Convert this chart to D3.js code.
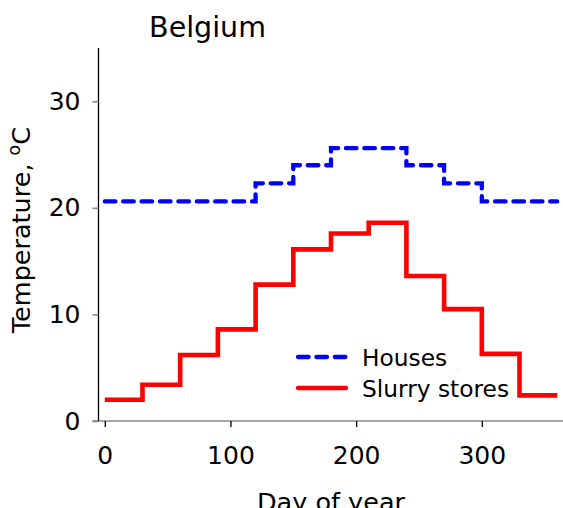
<!DOCTYPE html>
<html>
<head>
<meta charset="utf-8">
<script src="https://cdn.jsdelivr.net/npm/d3@7"></script>
<style>
  html, body { margin: 0; padding: 0; background: #fff; overflow: hidden; }
  svg { display: block; font-family: "DejaVu Sans", Verdana, sans-serif; }
</style>
</head>
<body>
<svg id="chart" width="563" height="508"></svg>
<script>
// Monthly step profile (30-day blocks) of temperatures in Belgium
const stepStarts = [0, 30, 60, 90, 120, 150, 180, 210, 240, 270, 300, 330];
const yearEnd = 360;
const housesTemp = [20.6, 20.6, 20.6, 20.6, 22.3, 24.0, 25.6, 25.6, 24.0, 22.3, 20.6, 20.6];
const slurryTemp = [2.0, 3.4, 6.2, 8.6, 12.8, 16.1, 17.6, 18.6, 13.6, 10.5, 6.3, 2.4];
const seriesNames = ["Houses", "Slurry stores"];
const xTicks = [0, 100, 200, 300];
const yTicks = [0, 10, 20, 30];

const svg = d3.select("#chart");
const plotLeft = 98.5, plotRight = 563.5, plotTop = 48, plotBottom = 421;

const x = d3.scaleLinear().domain([-5, 365]).range([plotLeft, plotRight]);
const y = d3.scaleLinear().domain([0, 35]).range([plotBottom, plotTop]);

// Build step points: each value holds until the next block begins
function stepPoints(values) {
  const pts = values.map((v, i) => [stepStarts[i], v]);
  pts.push([yearEnd, values[values.length - 1]]);
  return pts;
}

const line = d3.line()
  .x(d => x(d[0]))
  .y(d => y(d[1]))
  .curve(d3.curveStepAfter);

// Axes
const xAxis = svg.append("g")
  .attr("transform", `translate(0,${plotBottom})`)
  .call(d3.axisBottom(x).tickValues(xTicks).tickSize(6).tickPadding(19).tickFormat(d3.format("d")));
xAxis.select(".domain").attr("stroke", "#888").attr("stroke-width", 1.6)
  .attr("d", `M${plotLeft - 6},0H${plotRight}`);
xAxis.selectAll(".tick line").attr("stroke", "#000").attr("stroke-width", 1.3);
xAxis.selectAll(".tick text").attr("font-size", 25).attr("fill", "#000")
  .attr("font-family", "DejaVu Sans");

const yAxis = svg.append("g")
  .attr("transform", `translate(${plotLeft},0)`)
  .call(d3.axisLeft(y).tickValues(yTicks).tickSize(6).tickPadding(12).tickFormat(d3.format("d")));
yAxis.select(".domain").attr("stroke", "#000").attr("stroke-width", 1.3)
  .attr("d", `M0,${plotTop}V${plotBottom}`);
yAxis.selectAll(".tick line").attr("stroke", "#888").attr("stroke-width", 1.6);
yAxis.selectAll(".tick text").attr("font-size", 25).attr("fill", "#000")
  .attr("font-family", "DejaVu Sans");

// Series lines
svg.append("path")
  .datum(stepPoints(slurryTemp))
  .attr("d", line)
  .attr("fill", "none")
  .attr("stroke", "#ff0000")
  .attr("stroke-width", 4.6)
  .attr("stroke-linejoin", "miter");

svg.append("path")
  .datum(stepPoints(housesTemp))
  .attr("d", line)
  .attr("fill", "none")
  .attr("stroke", "#0000ff")
  .attr("stroke-width", 4.3)
  .attr("stroke-dasharray", "10.6 7.8")
  .attr("stroke-linecap", "round");

// Title and axis labels
svg.append("text")
  .attr("x", 207.5).attr("y", 37)
  .attr("text-anchor", "middle")
  .attr("font-size", 28.5)
  .text("Belgium");

svg.append("text")
  .attr("x", (plotLeft + plotRight) / 2).attr("y", 511)
  .attr("text-anchor", "middle")
  .attr("font-size", 25.5)
  .text("Day of year");

const yLabel = svg.append("text")
  .attr("transform", `translate(30,230) rotate(-90)`)
  .attr("text-anchor", "middle")
  .attr("font-size", 25.5);
yLabel.append("tspan").text("Temperature, ");
yLabel.append("tspan").attr("font-size", 17.5).attr("dy", -10).text("o");
yLabel.append("tspan").attr("dy", 10).text("C");

// Legend
const legend = svg.append("g");
const legendRows = [
  { name: seriesNames[0], color: "#0000ff", dash: "10.6 7.8", cap: "round", y: 357 },
  { name: seriesNames[1], color: "#ff0000", dash: null, cap: "round", y: 388 }
];
legendRows.forEach(r => {
  legend.append("line")
    .attr("x1", 298).attr("x2", 346)
    .attr("y1", r.y).attr("y2", r.y)
    .attr("stroke", r.color)
    .attr("stroke-width", 4.3)
    .attr("stroke-linecap", r.cap)
    .attr("stroke-dasharray", r.dash);
  legend.append("text")
    .attr("x", 362).attr("y", r.y + 8.8)
    .attr("font-size", 23.3)
    .text(r.name);
});
</script>
</body>
</html>
